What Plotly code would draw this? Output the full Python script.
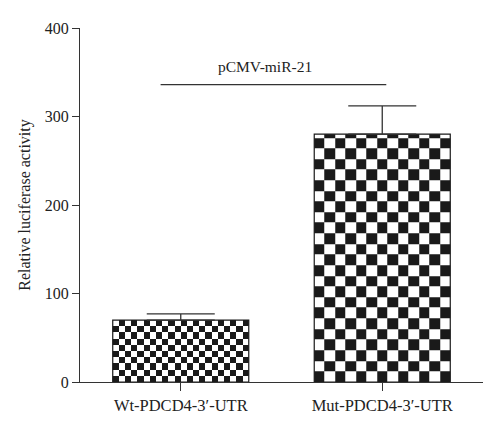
import numpy as np
import plotly.graph_objects as go

categories = ["Wt-PDCD4-3\u2032-UTR", "Mut-PDCD4-3\u2032-UTR"]
means = [70, 280]
errors = [7, 32]
y_ticks = [0, 100, 200, 300, 400]
bracket_label = "pCMV-miR-21"
bracket_y = 336

# checkerboard look: columns per bar and row height (data units)
checker_cols = [22, 13]
checker_rows = [7, 12]
bar_width = 0.675
ink = "#1a1a1a"

xs = list(range(len(categories)))
fig = go.Figure()

# checkerboard fill, drawn as heatmaps under the bar outlines
for i, (m, nc, rh) in enumerate(zip(means, checker_cols, checker_rows)):
    x_edges = np.linspace(xs[i] - bar_width / 2, xs[i] + bar_width / 2, nc + 1)
    y_edges = list(np.arange(0, m, rh))
    y_edges.append(m)
    nr = len(y_edges) - 1
    z = [[(r + c + 1) % 2 for c in range(nc)] for r in range(nr)]
    fig.add_trace(go.Heatmap(
        x=x_edges, y=y_edges, z=z, zmin=0, zmax=1,
        colorscale=[[0, "white"], [1, ink]], showscale=False,
        hoverinfo="skip"))

fig.add_trace(go.Bar(
    x=xs, y=means, width=bar_width,
    marker=dict(color="rgba(0,0,0,0)", line=dict(color=ink, width=1.2)),
    error_y=dict(type="data", array=errors, arrayminus=[0] * len(errors),
                 symmetric=False, color="#333", thickness=1.3, width=34),
))

fig.add_shape(type="line", xref="x", yref="y", x0=-0.1, x1=1.02,
              y0=bracket_y, y1=bracket_y, line=dict(color="#333", width=1.3))
fig.add_annotation(x=0.42, y=bracket_y, xref="x", yref="y", text=bracket_label,
                   showarrow=False, yshift=18,
                   font=dict(family="Liberation Serif", size=15.5, color="#222"))

# page body adds an 8px margin, so the figure is a bit smaller than the window
fig.update_layout(
    width=492, height=428,
    margin=dict(l=72, r=17, t=18, b=54),
    plot_bgcolor="white", paper_bgcolor="white",
    showlegend=False,
    font=dict(family="Liberation Serif", size=16, color="#222"),
    xaxis=dict(range=[-0.5, 1.5], tickvals=xs, ticktext=categories,
               showline=True, linecolor="#333", linewidth=1.3,
               ticks="outside", ticklen=8, tickcolor="#333", tickwidth=1.3,
               showgrid=False, zeroline=False, tickfont=dict(size=16.5)),
    yaxis=dict(range=[0, 400], tickvals=y_ticks,
               showline=True, linecolor="#333", linewidth=1.3,
               ticks="outside", ticklen=7, tickcolor="#333", tickwidth=1.3,
               showgrid=False, zeroline=False, tickfont=dict(size=16),
               title=dict(text="Relative luciferase activity", font=dict(size=16),
                          standoff=10)),
)

fig.write_html("out.html")
